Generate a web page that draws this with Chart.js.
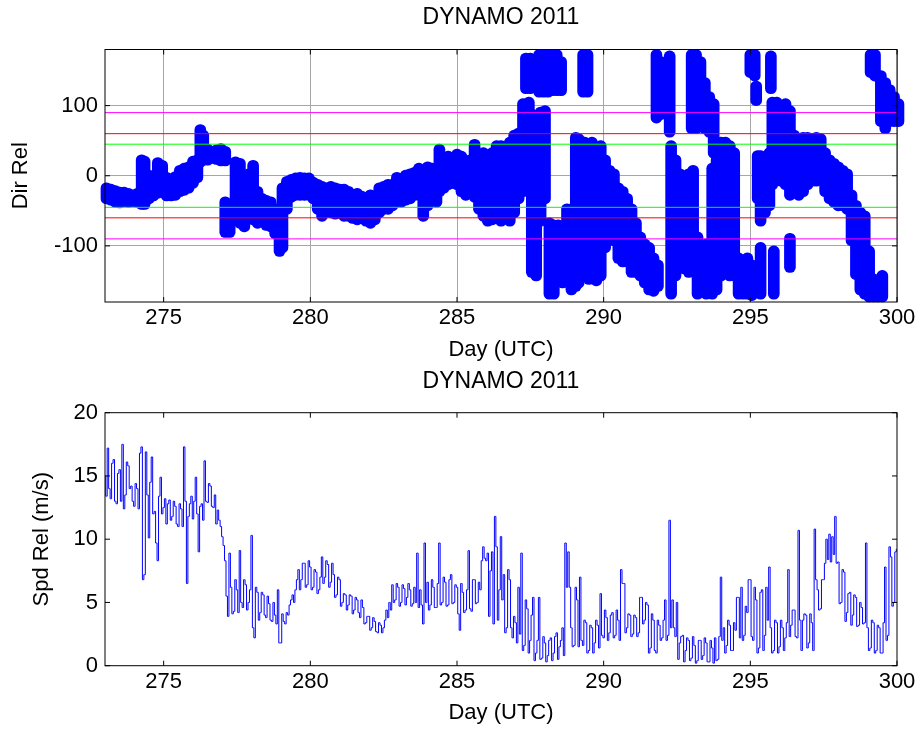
<!DOCTYPE html>
<html>
<head>
<meta charset="utf-8">
<script src="https://cdn.jsdelivr.net/npm/chart.js"></script>
<style>
  body { margin: 0; background: #fff; }
  #wrap { position: relative; width: 921px; height: 732px; }
  canvas { position: absolute; left: 0; }
</style>
</head>
<body>
<div id="wrap">
  <canvas id="dir" width="921" height="366" style="top:0"></canvas>
  <canvas id="spd" width="921" height="366" style="top:366px"></canvas>
</div>
<script>
// ---- data ----
const title = 'DYNAMO 2011';
const dayTicks = [275, 280, 285, 290, 295, 300];
const dirTicks = [-100, 0, 100];
const spdTicks = [0, 5, 10, 15, 20];

// reference direction levels (+/-)
const refLevels = [45, 60, 90];
const refColors = ['#00ff00', '#ff0000', '#ff00ff'];

// relative wind direction: each entry is one streak of dots (day, low, high)
const dirDay = [
  273.05, 273.2, 273.35, 273.5, 273.65, 273.8, 273.95, 274.1, 274.25, 274.35,
  274.5, 274.65, 274.8, 274.95, 275.1, 275.25, 275.4, 275.55, 275.7, 275.85,
  276.0, 276.15, 276.25, 276.35, 276.5, 276.65, 276.8, 276.95, 277.1, 277.1,
  277.25, 277.45, 277.6, 277.75, 277.9, 278.05, 278.2, 278.35, 278.5, 278.65,
  278.8, 278.95, 279.05, 279.2, 279.35, 279.5, 279.65, 279.8, 279.95, 280.1,
  280.25, 280.4, 280.55, 280.7, 280.85, 281.0, 281.15, 281.3, 281.45, 281.6,
  281.75, 281.9, 282.05, 282.2, 282.35, 282.5, 282.65, 282.8, 282.95, 283.1,
  283.25, 283.4, 283.55, 283.7, 283.85, 284.0, 284.15, 284.3, 284.4, 284.55,
  284.7, 284.85, 285.0, 285.15, 285.3, 285.45, 285.6, 285.75, 285.9, 286.05,
  286.2, 286.35, 286.5, 286.65, 286.8, 286.95, 287.1, 287.25, 287.35, 287.45,
  287.5, 287.55, 287.7, 287.8, 287.85, 287.95, 288.0, 288.1, 288.15, 288.25,
  288.3, 288.4, 288.45, 288.55, 288.6, 288.75, 288.9, 289.05, 289.15, 289.3,
  289.35, 289.45, 289.5, 289.6, 289.75, 289.9, 290.05, 290.2, 290.35, 290.5,
  290.65, 290.8, 290.95, 291.1, 291.25, 291.4, 291.55, 291.7, 291.8, 291.85,
  291.95, 292.1, 292.25, 292.3, 292.45, 292.6, 292.75, 292.9, 293.0, 293.05,
  293.15, 293.2, 293.3, 293.45, 293.5, 293.6, 293.7, 293.75, 293.85, 294.0,
  294.15, 294.3, 294.45, 294.6, 294.75, 294.9, 295.0, 295.05, 295.15, 295.2,
  295.25, 295.35, 295.35, 295.5, 295.65, 295.7, 295.75, 295.8, 295.9, 296.05,
  296.2, 296.35, 296.35, 296.5, 296.65, 296.8, 296.95, 297.1, 297.25, 297.4,
  297.55, 297.7, 297.85, 298.0, 298.15, 298.3, 298.45, 298.6, 298.75, 298.9,
  299.05, 299.1, 299.2, 299.25, 299.35, 299.45, 299.5, 299.6, 299.75, 299.9,
  300.05
];
const dirLo = [
  -40, -42, -45, -46, -44, -45, -44, -45, -48, -48,
  -40, -36, -32, -30, -36, -36, -35, -30, -28, -25,
  -18, -10, 12, 15, 15, 18, 16, 14, 14, -88,
  -88, -60, -75, -80, -60, -70, -75, -70, -78, -80,
  -90, -115, -110, -55, -38, -35, -35, -35, -35, -40,
  -55, -65, -55, -60, -62, -60, -65, -65, -68, -70,
  -68, -72, -75, -70, -60, -55, -55, -50, -45, -45,
  -42, -40, -35, -35, -65, -50, -40, -45, -30, -25,
  -20, -18, -20, -30, -35, -30, -38, -55, -65, -72,
  -70, -68, -72, -68, -72, -60, -40, -30, 117, -25,
  117, -145, -150, 112, -72, 112, -40, 112, -176, 114,
  -176, 114, -150, 114, -160, -140, -170, -165, -160, 112,
  -150, 112, -155, -100, -157, -150, -110, -65, -100, -125,
  -130, -130, -145, -145, -150, -160, -170, -172, 75, -165,
  80, 85, 55, -176, -150, -110, -140, -145, 60, -120,
  60, -176, 70, 60, -176, 55, -176, 25, -170, -150,
  -145, -150, -150, -176, -176, -176, 140, -178, 135, 100,
  -40, -72, -176, -60, -50, 117, -20, -176, -10, -15,
  -20, -35, -138, -30, -35, -30, -20, -15, -15, -10,
  -30, -40, -45, -50, -50, -55, -100, -148, -170, -176,
  -180, 140, -180, 135, -180, 70, -180, 60, 70, 70,
  70
];
const dirHi = [
  -10, -12, -14, -16, -16, -18, -20, -18, 30, 28,
  8, 5, 26, 22, 5, 2, 6, 15, 18, 20,
  28, 30, 73, 65, 45, 42, 44, 46, 42, -30,
  -35, 27, 25, 0, 10, 22, -15, -25, -28, -30,
  -40, -45, -10, 0, 2, 4, 5, 4, 4, -2,
  -5, -8, -10, -8, -10, -12, -12, -15, -20, -18,
  -22, -25, -20, -22, -10, -8, -5, -5, 5, 2,
  8, 10, 12, 18, 15, 20, 18, 10, 45, 25,
  35, 30, 38, 35, 28, 30, 52, 30, 40, 35,
  40, 50, 50, 48, 55, 65, 68, 110, 175, 112,
  175, 95, 55, 180, 98, 180, 100, 180, -60, 180,
  -63, 180, -63, 170, -70, -40, -40, 62, 60, 180,
  55, 180, -50, 55, 40, 50, 30, 15, 10, -10,
  -15, -25, -40, -60, -80, -90, -95, -110, 180, -120,
  170, 150, 178, 50, 30, 10, 0, 10, 180, 15,
  180, -80, 170, 140, -90, 120, 18, 110, 30, 55,
  55, 50, 40, -110, -115, -110, 180, -120, 180, 135,
  36, 36, -95, 30, 40, 178, 112, -100, 112, 100,
  110, 100, -82, 65, 60, 62, 62, 60, 62, 60,
  40, 30, 25, 20, 15, 10, -20, -35, -45, -50,
  -100, 180, -140, 180, -145, 150, -135, 140, 130, 120,
  110
];

// relative wind speed (m/s), one sample every 0.05 day from day 273.0
const spdStart = 273.0;
const spdStep = 0.05;
const spdVal = [
  15.0, 13.4, 17.2, 14.0, 13.2, 16.0, 16.3, 13.0, 12.8, 15.2, 15.5, 13.0, 17.5, 12.4, 13.5, 16.1, 15.8, 14.0, 14.2, 13.0, // 273
  12.6, 14.4, 14.0, 12.4, 16.8, 17.3, 6.8, 7.2, 16.9, 13.5, 10.1, 14.5, 16.5, 12.0, 12.2, 9.7, 8.3, 13.4, 14.9, 12.0,     // 274
  12.5, 13.2, 11.2, 12.8, 13.1, 11.5, 11.8, 13.0, 12.6, 11.2, 11.0, 12.8, 12.4, 11.0, 17.3, 13.0, 6.5, 11.8, 12.8, 13.4,  // 275
  11.6, 13.0, 14.9, 12.0, 9.0, 12.6, 12.8, 11.5, 16.2, 13.0, 12.9, 14.4, 14.2, 12.6, 12.5, 13.5, 11.2, 12.3, 11.5, 11.0,  // 276
  10.2, 9.5, 8.3, 5.5, 3.9, 8.9, 6.2, 4.1, 4.3, 6.8, 6.0, 4.2, 9.1, 5.0, 4.6, 6.8, 6.4, 4.4, 5.0, 6.0,                    // 277
  10.3, 3.0, 2.2, 6.2, 5.8, 3.6, 4.2, 5.8, 5.6, 4.0, 3.8, 5.5, 4.9, 3.6, 3.5, 5.0, 4.0, 3.3, 6.0, 1.8,                    // 278
  1.8, 4.1, 3.5, 3.3, 4.2, 4.0, 4.8, 5.2, 5.6, 5.0, 6.0, 6.8, 7.6, 6.0, 6.8, 8.1, 8.1, 6.2, 6.4, 8.3,                     // 279
  7.8, 6.0, 6.2, 7.6, 7.4, 5.7, 6.0, 7.0, 8.6, 6.5, 7.0, 8.3, 8.0, 6.2, 6.6, 8.1, 7.2, 5.4, 5.6, 7.0,                     // 280
  6.8, 4.7, 5.0, 5.7, 5.6, 4.4, 4.8, 5.6, 5.5, 4.1, 4.4, 5.4, 5.2, 4.2, 3.8, 5.2, 4.6, 3.3, 3.4, 3.9,                     // 281
  3.9, 2.8, 3.0, 3.8, 3.5, 2.7, 2.6, 3.4, 3.2, 2.6, 3.0, 3.6, 4.4, 3.8, 5.0, 4.4, 6.4, 5.0, 5.2, 6.5,                     // 282
  6.2, 4.7, 5.0, 6.4, 6.1, 4.8, 5.4, 6.5, 6.0, 4.7, 4.9, 6.2, 5.0, 8.9, 4.6, 6.0, 4.8, 3.3, 9.7, 5.0,                     // 283
  6.6, 4.4, 4.8, 6.8, 6.2, 4.6, 4.6, 6.5, 9.7, 4.8, 5.0, 7.0, 6.6, 4.7, 4.8, 6.8, 7.2, 4.9, 5.0, 6.4,                     // 284
  6.2, 4.1, 2.8, 6.5, 5.8, 4.2, 4.4, 6.0, 9.1, 4.5, 4.3, 6.8, 6.8, 4.9, 5.0, 6.6, 6.0, 8.3, 9.4, 8.5,                     // 285
  8.3, 8.9, 3.9, 7.5, 9.0, 3.3, 11.8, 9.4, 3.6, 6.0, 10.2, 5.2, 7.2, 2.6, 3.0, 7.6, 6.8, 3.0, 2.2, 3.9,                   // 286
  3.4, 1.8, 6.2, 2.5, 8.9, 1.2, 1.6, 5.2, 4.5, 1.0, 2.0, 4.0, 5.4, 0.4, 1.0, 2.0, 5.4, 0.5, 0.6, 2.3,                     // 287
  1.8, 0.3, 0.8, 2.0, 2.2, 0.4, 1.0, 2.3, 2.6, 0.5, 1.5, 2.0, 3.0, 0.8, 9.7, 6.2, 9.0, 6.2, 3.0, 1.5,                     // 288
  1.6, 6.2, 5.2, 1.5, 7.0, 2.0, 1.6, 3.6, 3.4, 1.0, 1.2, 3.2, 3.0, 1.0, 1.8, 3.6, 3.2, 1.4, 5.7, 2.4,                     // 289
  2.2, 4.4, 3.8, 2.0, 2.6, 4.0, 4.2, 2.2, 2.4, 4.4, 3.6, 2.0, 7.6, 6.5, 6.5, 2.6, 3.0, 4.1, 4.0, 2.3,                     // 290
  2.5, 4.0, 3.8, 2.3, 2.6, 5.4, 5.4, 3.3, 3.6, 5.0, 4.8, 1.0, 1.4, 4.1, 3.6, 1.2, 1.0, 3.6, 3.2, 2.0,                     // 291
  2.2, 3.6, 5.2, 2.0, 2.4, 11.5, 3.0, 5.2, 3.0, 2.3, 5.0, 0.5, 1.8, 2.3, 2.4, 0.3, 1.2, 2.2, 2.0, 0.4,                    // 292
  0.6, 2.3, 1.6, 0.2, 0.4, 2.0, 2.0, 0.5, 0.8, 2.2, 1.8, 0.3, 0.3, 2.0, 1.4, 0.2, 2.2, 0.4, 0.5, 2.3,                     // 293
  7.0, 2.0, 3.0, 1.0, 1.6, 3.6, 3.2, 1.2, 1.2, 3.4, 2.8, 5.4, 5.4, 2.2, 6.2, 2.0, 2.4, 4.7, 4.2, 6.8,                     // 294
  6.8, 2.3, 2.0, 6.2, 5.2, 1.0, 1.4, 5.8, 6.0, 1.2, 2.4, 6.2, 3.6, 7.8, 3.0, 1.0, 1.2, 3.6, 3.4, 1.0,                     // 295
  1.5, 3.6, 3.0, 1.2, 2.2, 3.4, 7.6, 2.3, 3.2, 4.4, 4.4, 2.3, 2.2, 10.7, 3.6, 1.2, 3.6, 4.1, 4.0, 1.4,                    // 296
  1.8, 4.1, 3.4, 1.2, 10.8, 6.8, 6.0, 4.4, 4.5, 6.8, 6.8, 8.1, 10.0, 8.4, 10.4, 8.2, 10.2, 8.8, 11.8, 8.1,                // 297
  8.2, 4.9, 5.0, 7.6, 7.4, 3.5, 4.2, 5.7, 5.8, 3.2, 4.0, 5.6, 5.4, 3.1, 3.2, 5.0, 4.6, 3.3, 3.4, 9.7,                     // 298
  3.0, 1.2, 1.4, 3.6, 3.4, 1.0, 1.2, 3.2, 3.0, 1.0, 1.0, 3.4, 7.8, 2.0, 2.4, 9.4, 8.6, 4.7, 5.0, 9.0,                     // 299
  9.2                                                                                                                    // 300
];

// ---- chart setup ----
Chart.defaults.font.family = '"Liberation Sans", Arial, Helvetica, sans-serif';
Chart.defaults.font.size = 22;
Chart.defaults.color = '#000';

const dayMin = 273, dayMax = 300;

// plot box and inward tick marks, like the original figure
const frame = {
  id: 'frame',
  afterDatasetsDraw(chart) {
    const { ctx, chartArea: a, scales } = chart;
    ctx.save();
    ctx.strokeStyle = '#000';
    ctx.lineWidth = 1;
    ctx.beginPath();
    scales.x.ticks.forEach(t => {
      const p = scales.x.getPixelForValue(t.value);
      ctx.moveTo(p, a.top); ctx.lineTo(p, a.top + 5);
      ctx.moveTo(p, a.bottom); ctx.lineTo(p, a.bottom - 5);
    });
    scales.y.ticks.forEach(t => {
      const p = scales.y.getPixelForValue(t.value);
      ctx.moveTo(a.left, p); ctx.lineTo(a.left + 5, p);
      ctx.moveTo(a.right, p); ctx.lineTo(a.right - 5, p);
    });
    ctx.stroke();
    ctx.strokeRect(a.left, a.top, a.right - a.left, a.bottom - a.top);
    ctx.restore();
  }
};

function setTicks(list) {
  return scale => { scale.ticks = list.map(v => ({ value: v })); };
}

function dayAxis(showGrid, tickPad, height) {
  return {
    type: 'linear', position: 'bottom', min: dayMin, max: dayMax,
    offset: false,
    afterBuildTicks: setTicks(dayTicks),
    afterFit: s => { s.height = height; },
    ticks: { padding: tickPad, maxRotation: 0, font: { size: 22 } },
    grid: { display: showGrid, drawTicks: false, offset: false, color: '#a6a6a6', lineWidth: 1 },
    border: { display: false },
    title: { display: true, text: 'Day (UTC)', font: { size: 22 }, padding: 0 }
  };
}

function titleAxis(height, padTop) {
  return {
    type: 'linear', position: 'top', min: dayMin, max: dayMax,
    afterFit: s => { s.height = height; },
    ticks: { display: false },
    grid: { display: false, drawTicks: false },
    border: { display: false },
    title: { display: true, text: title, font: { size: 23 }, padding: { top: padTop, bottom: 0 } }
  };
}

// top panel: relative direction
const refSets = [];
refLevels.forEach((lvl, i) => {
  [lvl, -lvl].forEach(v => {
    refSets.push({
      type: 'line',
      data: [{ x: dayMin, y: v }, { x: dayMax, y: v }],
      borderColor: refColors[i], borderWidth: 1,
      pointRadius: 0, order: 0
    });
  });
});

new Chart(document.getElementById('dir'), {
  type: 'bar',
  data: {
    datasets: [
      ...refSets,
      {
        type: 'bar',
        data: dirDay.map((d, i) => ({ x: d, y: [dirLo[i], dirHi[i]] })),
        backgroundColor: '#0000ff',
        barThickness: 11,
        borderRadius: 6,
        borderSkipped: false,
        grouped: false,
        clip: false,
        order: 1
      }
    ]
  },
  options: {
    responsive: false,
    devicePixelRatio: 1,
    animation: false,
    layout: { padding: { left: 8, right: 24, top: 0, bottom: 3 } },
    plugins: { legend: { display: false }, tooltip: { enabled: false } },
    scales: {
      x: dayAxis(true, 3, 61),
      x2: titleAxis(49.5, 4.2),
      y: {
        type: 'linear', min: -180, max: 180,
        afterBuildTicks: setTicks(dirTicks),
        afterFit: s => { s.width = 97; },
        ticks: { padding: 7, font: { size: 22 } },
        grid: { drawTicks: false, color: '#a6a6a6', lineWidth: 1 },
        border: { display: false },
        title: { display: true, text: 'Dir Rel', font: { size: 22 }, padding: 0 }
      }
    }
  },
  plugins: [frame]
});

// bottom panel: relative speed
new Chart(document.getElementById('spd'), {
  type: 'line',
  data: {
    datasets: [{
      data: spdVal.map((v, i) => ({ x: spdStart + i * spdStep, y: v })),
      borderColor: '#0000ff',
      borderWidth: 1,
      pointRadius: 0,
      stepped: 'middle'
    }]
  },
  options: {
    responsive: false,
    devicePixelRatio: 1,
    animation: false,
    layout: { padding: { left: 29, right: 24, top: 0, bottom: 5.8 } },
    plugins: { legend: { display: false }, tooltip: { enabled: false } },
    scales: {
      x: dayAxis(false, 3.5, 60.5),
      x2: titleAxis(46.7, 1.7),
      y: {
        type: 'linear', min: 0, max: 20,
        afterBuildTicks: setTicks(spdTicks),
        afterFit: s => { s.width = 76; },
        ticks: { padding: 7, font: { size: 22 } },
        grid: { display: false, drawTicks: false },
        border: { display: false },
        title: { display: true, text: 'Spd Rel (m/s)', font: { size: 22 }, padding: 0 }
      }
    }
  },
  plugins: [frame]
});
</script>
</body>
</html>
